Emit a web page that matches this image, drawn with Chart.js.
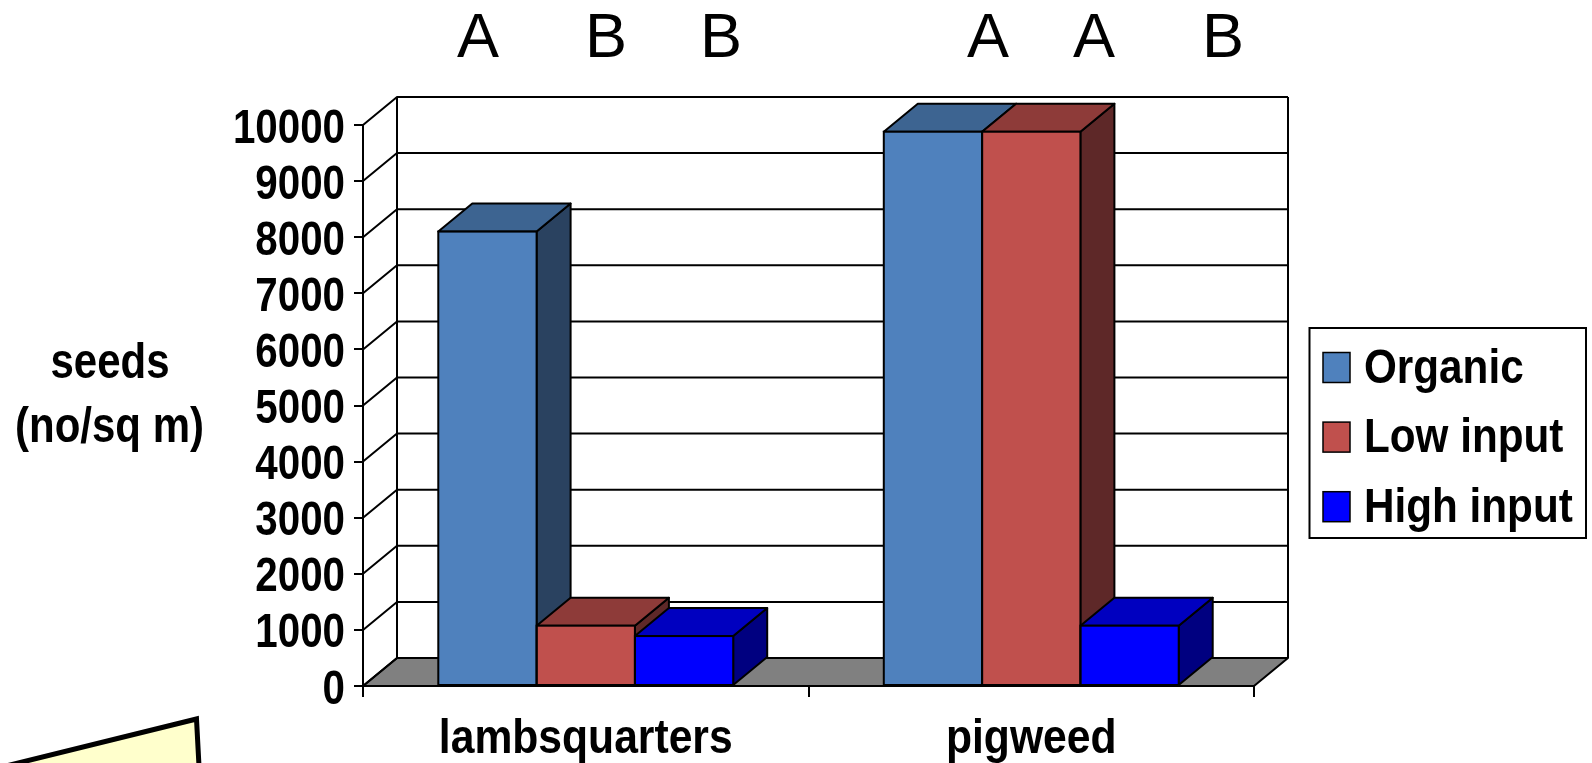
<!DOCTYPE html>
<html>
<head>
<meta charset="utf-8">
<script src="https://cdn.jsdelivr.net/npm/chart.js@4.4.1/dist/chart.umd.min.js"></script>
<style>
  html, body { margin: 0; padding: 0; background: #fff; overflow: hidden; }
  canvas { display: block; }
</style>
</head>
<body>
<canvas id="chart" width="1592" height="763"></canvas>
<script>
// ---- data ----
const categories = ['lambsquarters', 'pigweed'];
const seriesNames = ['Organic', 'Low input', 'High input'];
const organic = [8100, 9880];
const lowInput = [1075, 9880];
const highInput = [890, 1075];
const yTicks = [0, 1000, 2000, 3000, 4000, 5000, 6000, 7000, 8000, 9000, 10000];
const yTickLabels = yTicks.map(String);
// significance letters, per category then per series
const sigLetters = [['A', 'B', 'B'], ['A', 'A', 'B']];
const axisTitle = ['seeds', '(no/sq m)'];

// ---- styling ----
const SANS = '"Liberation Sans", Arial, sans-serif';
const faceColors = ['#4F81BD', '#C0504D', '#0000FF'];
const topColors = ['#3D6491', '#8E3B39', '#0000C0'];
const sideColors = ['#2A4260', '#5E2828', '#000080'];
const DEPTH_X = 34, DEPTH_Y = -28;

function barBoxes(chart) {
  const out = [];
  chart.data.labels.forEach((_, i) => {
    chart.data.datasets.forEach((ds, d) => {
      const el = chart.getDatasetMeta(d).data[i];
      const p = el.getProps(['x', 'y', 'base', 'width'], true);
      out.push({ d, i, left: p.x - p.width / 2, right: p.x + p.width / 2, top: p.y, base: p.base });
    });
  });
  return out;
}

function poly(ctx, pts, fill) {
  ctx.beginPath();
  ctx.moveTo(pts[0][0], pts[0][1]);
  for (let k = 1; k < pts.length; k++) ctx.lineTo(pts[k][0], pts[k][1]);
  ctx.closePath();
  if (fill) { ctx.fillStyle = fill; ctx.fill(); }
  ctx.stroke();
}

// condensed (Arial Narrow style) text: the regular face squeezed horizontally
function narrowText(ctx, text, x, y, align, squeeze) {
  ctx.save();
  ctx.translate(x, y);
  ctx.scale(squeeze, 1);
  ctx.textAlign = align;
  ctx.textBaseline = 'alphabetic';
  ctx.fillText(text, 0, 0);
  ctx.restore();
}

// back wall, side wall, floor and the hidden faces of each column
const walls3d = {
  id: 'walls3d',
  beforeDatasetsDraw(chart) {
    const { ctx, chartArea: a, scales: { y } } = chart;
    ctx.save();
    ctx.lineWidth = 2;
    ctx.strokeStyle = '#000';
    ctx.lineJoin = 'round';
    // back wall
    ctx.fillStyle = '#fff';
    ctx.fillRect(a.left + DEPTH_X, a.top + DEPTH_Y, a.right - a.left, a.bottom - a.top);
    // floor
    poly(ctx, [[a.left, a.bottom], [a.right, a.bottom], [a.right + DEPTH_X, a.bottom + DEPTH_Y], [a.left + DEPTH_X, a.bottom + DEPTH_Y]], '#808080');
    // gridlines across side wall and back wall
    y.ticks.forEach(t => {
      const py = y.getPixelForValue(t.value);
      ctx.beginPath();
      ctx.moveTo(a.left, py);
      ctx.lineTo(a.left + DEPTH_X, py + DEPTH_Y);
      ctx.lineTo(a.right + DEPTH_X, py + DEPTH_Y);
      ctx.stroke();
    });
    ctx.beginPath();
    ctx.moveTo(a.left + DEPTH_X, a.top + DEPTH_Y);
    ctx.lineTo(a.left + DEPTH_X, a.bottom + DEPTH_Y);
    ctx.moveTo(a.right + DEPTH_X, a.top + DEPTH_Y);
    ctx.lineTo(a.right + DEPTH_X, a.bottom + DEPTH_Y);
    ctx.stroke();
    // column sides and tops, left to right
    barBoxes(chart).forEach(b => {
      poly(ctx, [[b.right, b.top], [b.right + DEPTH_X, b.top + DEPTH_Y], [b.right + DEPTH_X, b.base + DEPTH_Y], [b.right, b.base]], sideColors[b.d]);
      poly(ctx, [[b.left, b.top], [b.left + DEPTH_X, b.top + DEPTH_Y], [b.right + DEPTH_X, b.top + DEPTH_Y], [b.right, b.top]], topColors[b.d]);
    });
    ctx.restore();
  },
  afterDatasetsDraw(chart) {
    const ctx = chart.ctx;
    ctx.save();
    ctx.lineWidth = 2;
    ctx.strokeStyle = '#000';
    barBoxes(chart).forEach(b => {
      ctx.strokeRect(b.left, b.top, b.right - b.left, b.base - b.top);
    });
    ctx.restore();
  }
};

// tick labels, axis title, letters, legend box and the callout corner
const extras = {
  id: 'extras',
  afterDraw(chart, args, opts) {
    const { ctx, scales: { x, y } } = chart;
    ctx.save();
    ctx.fillStyle = '#000';

    // value axis labels
    ctx.font = 'bold 48px ' + SANS;
    y.ticks.forEach((t, k) => {
      narrowText(ctx, yTickLabels[k], y.right - 18, y.getPixelForValue(t.value) + 17.5, 'right', 0.84);
    });

    // category labels
    ctx.font = 'bold 49px ' + SANS;
    chart.data.labels.forEach((lab, i) => {
      narrowText(ctx, lab, x.getPixelForTick(i), 753, 'center', 0.87);
    });

    // value axis title, written horizontally
    ctx.font = 'bold 50px ' + SANS;
    narrowText(ctx, axisTitle[0], 110, 378, 'center', 0.84);
    narrowText(ctx, axisTitle[1], 109.5, 442, 'center', 0.84);

    // significance letters above the columns
    ctx.font = '63px ' + SANS;
    ctx.textAlign = 'center';
    let k = 0;
    sigLetters.forEach(row => row.forEach(letter => {
      ctx.fillText(letter, opts.letterX[k++], 57);
    }));

    // legend
    const L = opts.legend;
    ctx.fillStyle = '#fff';
    ctx.fillRect(L.x, L.y, L.w, L.h);
    ctx.lineWidth = 2;
    ctx.strokeStyle = '#000';
    ctx.strokeRect(L.x, L.y, L.w, L.h);
    ctx.font = 'bold 48px ' + SANS;
    chart.data.datasets.forEach((ds, d) => {
      const base = L.firstBase + d * L.step;
      ctx.fillStyle = ds.backgroundColor;
      ctx.fillRect(L.boxX, base - 30, 27, 30);
      ctx.lineWidth = 1.5;
      ctx.strokeRect(L.boxX, base - 30, 27, 30);
      ctx.fillStyle = '#000';
      narrowText(ctx, ds.label, L.textX, base, 'left', 0.88);
    });

    // corner of the callout box at the bottom left
    ctx.lineWidth = 5;
    ctx.lineJoin = 'miter';
    ctx.fillStyle = '#FFFFCC';
    ctx.beginPath();
    ctx.moveTo(6, 766);
    ctx.lineTo(196.5, 719);
    ctx.lineTo(199, 766);
    ctx.closePath();
    ctx.fill();
    ctx.stroke();
    ctx.restore();
  }
};

new Chart(document.getElementById('chart'), {
  type: 'bar',
  data: {
    labels: categories,
    datasets: [
      { label: seriesNames[0], data: organic, backgroundColor: faceColors[0] },
      { label: seriesNames[1], data: lowInput, backgroundColor: faceColors[1] },
      { label: seriesNames[2], data: highInput, backgroundColor: faceColors[2] }
    ]
  },
  options: {
    responsive: false,
    animation: false,
    devicePixelRatio: 1,
    layout: { padding: { left: 0, right: 338, top: 125, bottom: 0 } },
    datasets: { bar: { categoryPercentage: 0.662, barPercentage: 1, borderWidth: 0, clip: false } },
    plugins: {
      legend: { display: false },
      tooltip: { enabled: false },
      extras: {
        letterX: [478, 606, 721, 988, 1094, 1223],
        legend: { x: 1309.5, y: 328, w: 276.5, h: 210, boxX: 1323, textX: 1364, firstBase: 382.5, step: 69.6 }
      }
    },
    scales: {
      x: {
        offset: true,
        grid: { offset: true, drawOnChartArea: false, tickLength: 11, color: '#000', lineWidth: 2 },
        border: { color: '#000', width: 2 },
        ticks: { display: false },
        afterFit: s => { s.height = 77; }
      },
      y: {
        min: 0,
        max: 10000,
        afterBuildTicks: s => { s.ticks = yTicks.map(v => ({ value: v })); },
        ticks: { display: false },
        grid: { drawOnChartArea: false, tickLength: 9, color: '#000', lineWidth: 2 },
        border: { color: '#000', width: 2 },
        afterFit: s => { s.width = 363; }
      }
    }
  },
  plugins: [walls3d, extras]
});
</script>
</body>
</html>
